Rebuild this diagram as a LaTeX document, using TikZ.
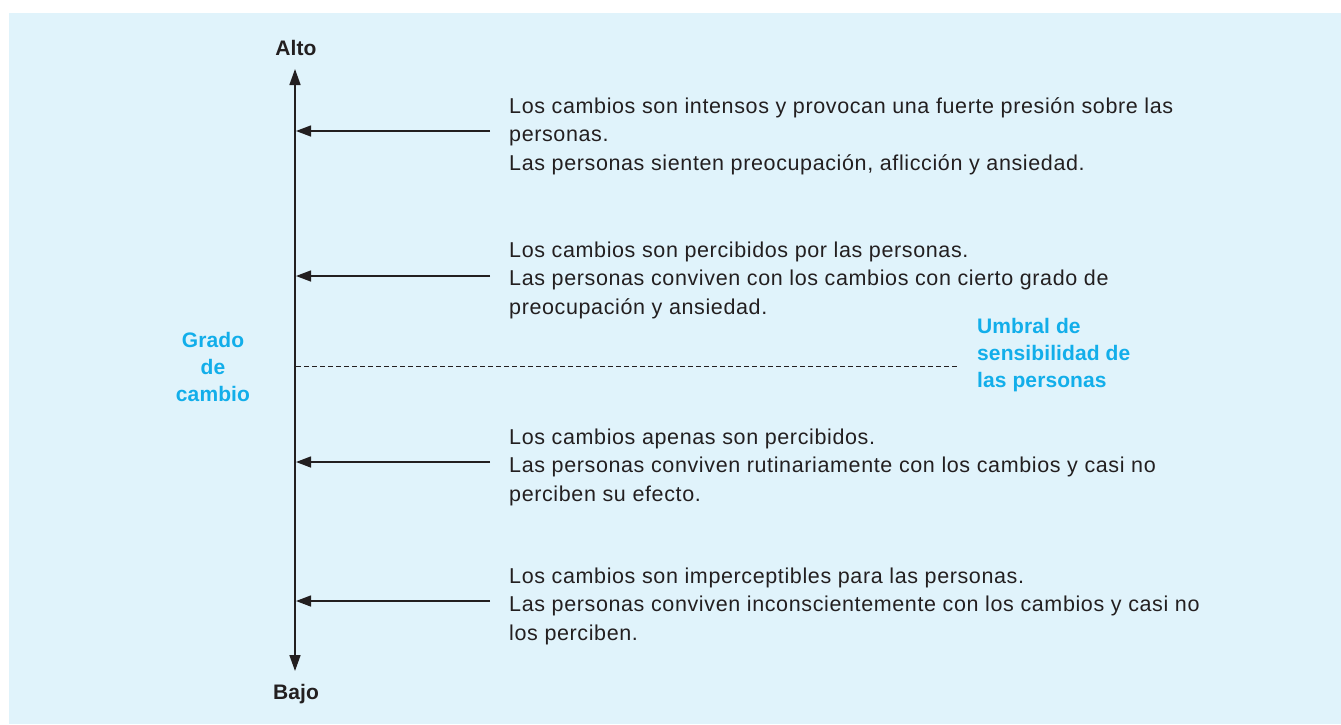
\documentclass[tikz,border=0pt]{standalone}
\usepackage{fontspec}
\setmainfont{Liberation Sans}
\newfontfamily\descfont[LetterSpace=2.9]{Liberation Sans}
\newfontfamily\lblfont[LetterSpace=0.5]{Liberation Sans}
\usetikzlibrary{arrows.meta}
\definecolor{bgblue}{HTML}{E0F3FB}
\definecolor{txtblue}{HTML}{12AEEA}
\definecolor{ink}{HTML}{231F20}
\begin{document}
\begin{tikzpicture}[x=1pt,y=-1pt,
  ax/.style={draw=ink,line width=1.6pt,-{Triangle[length=16pt,width=11pt]}},
  harrow/.style={draw=ink,line width=1.4pt,-{Triangle[length=15pt,width=11pt]}},
  desc/.style={anchor=base west,align=left,inner sep=0pt,font=\descfont\fontsize{21.5}{28.5}\selectfont,text=ink},
  lbl/.style={font=\lblfont\bfseries\fontsize{21}{27}\selectfont,text=ink,inner sep=0pt},
  blue/.style={font=\lblfont\bfseries\fontsize{21}{26.8}\selectfont,text=txtblue,inner sep=0pt,align=center}]
\useasboundingbox (0,0) rectangle (1341,724);
\fill[bgblue] (9,13) rectangle (1341,724);
\coordinate (top) at (295,69);
\coordinate (bot) at (295,671);
\node[lbl,anchor=base] (alto) at (296,55) {Alto};
\node[lbl,anchor=base] (bajo) at (296,699) {Bajo};
\draw[ax] (295,300) -- (top);
\draw[ax] (295,300) -- (bot);
\coordinate (s1) at (490,131); \coordinate (e1) at (296,131);
\coordinate (s2) at (490,276); \coordinate (e2) at (296,276);
\coordinate (s3) at (490,462); \coordinate (e3) at (296,462);
\coordinate (s4) at (490,601); \coordinate (e4) at (296,601);
\draw[harrow] (s1) -- (e1);
\draw[harrow] (s2) -- (e2);
\draw[harrow] (s3) -- (e3);
\draw[harrow] (s4) -- (e4);
\coordinate (d1) at (296,366); \coordinate (d2) at (958,366);
\draw[ink,line width=1pt,dash pattern=on 5pt off 3pt] (d1) -- (d2);
\node[desc] (t1) at (509,170) {Los cambios son intensos y provocan una fuerte presión sobre las\\personas.\\Las personas sienten preocupación, aflicción y ansiedad.};
\node[desc] (t2) at (509,314) {Los cambios son percibidos por las personas.\\Las personas conviven con los cambios con cierto grado de\\preocupación y ansiedad.};
\node[desc] (t3) at (509,501) {Los cambios apenas son percibidos.\\Las personas conviven rutinariamente con los cambios y casi no\\perciben su efecto.};
\node[desc] (t4) at (509,640) {Los cambios son imperceptibles para las personas.\\Las personas conviven inconscientemente con los cambios y casi no\\los perciben.};
\node[blue] (grado) at (213,367) {Grado\\de\\cambio};
\node[blue,align=left,anchor=west] (umbral) at (977,355) {Umbral de\\sensibilidad de\\las personas};
\end{tikzpicture}
\end{document}
